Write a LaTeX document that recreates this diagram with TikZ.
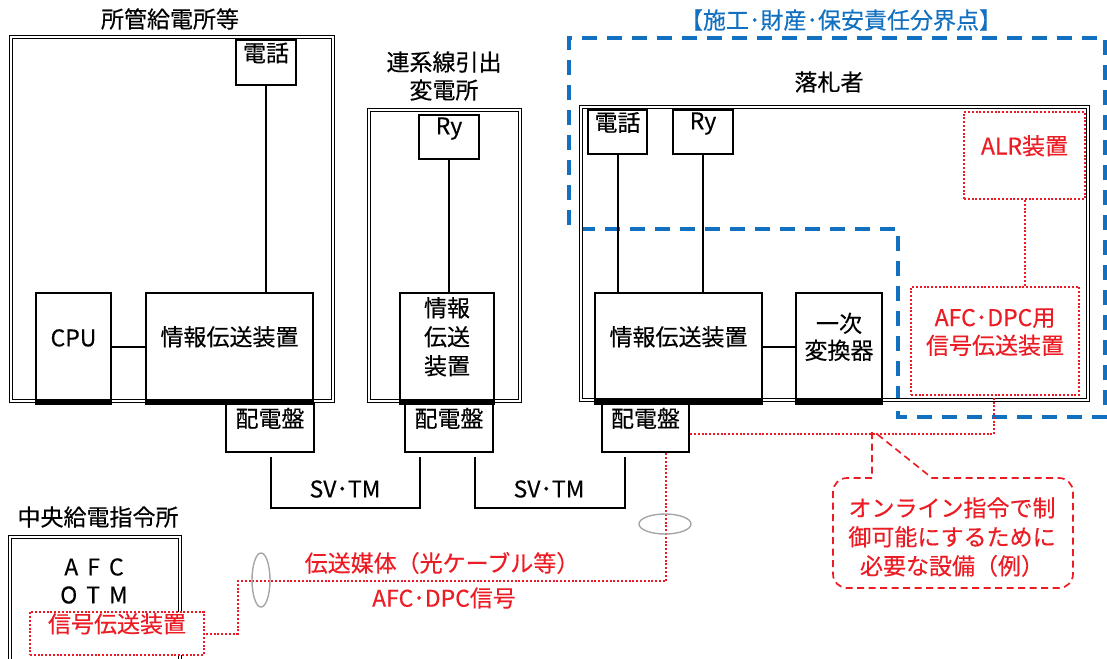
\documentclass[tikz,border=0pt]{standalone}
\usepackage{fontspec}
\setmainfont{Noto Sans CJK JP}[FakeBold=0.35]
\usetikzlibrary{fit,calc}
\definecolor{rd}{RGB}{235,28,36}
\definecolor{bl}{RGB}{18,112,192}
\newcommand\myfs{\fontsize{23}{28}\selectfont}
\begin{document}
\begin{tikzpicture}[x=1pt,y=-1pt,
  box/.style={draw, line width=2.2pt, inner sep=0pt, align=center, font=\myfs},
  stn/.style={draw, double, double distance=2pt, line width=1.2pt, inner sep=0pt},
  rbox/.style={draw=rd, text=rd, line width=2pt, dash pattern=on 2pt off 1.8pt, inner sep=0pt, align=center, font=\myfs},
  conn/.style={line width=2pt},
  rline/.style={draw=rd, line width=2pt, dash pattern=on 2pt off 1.8pt},
  bline/.style={draw=bl, line width=3.8pt, dash pattern=on 15pt off 10pt},
  callout/.style={draw=rd, line width=1.7pt, dash pattern=on 7pt off 4.5pt},
  ell/.style={draw=gray!70, line width=1.4pt},
  lbl/.style={font=\myfs, align=center, inner sep=0pt},
  rlbl/.style={font=\myfs, align=center, inner sep=0pt, text=rd},
  bar/.style={line width=4.5pt}]
\useasboundingbox (0,0) rectangle (1107,658);
\clip (0,0) rectangle (1107,658);

% blue boundary
\draw[bline] (569,225) -- (569,38) -- (1105,38) -- (1105,417) -- (898,417) -- (898,229) -- (579,229);
\node[lbl, text=bl] (btitle) at (841,20) {【施工･財産･保安責任分界点】};

% left station
\node[lbl] (t1) at (170,19) {所管給電所等};
\node[stn, fit={(11,37) (333,401)}] (s1) {};
\node[box, fit={(236,40) (296,85)}] (tel1) {電話};
\node[box, fit={(36,293) (111,400)}] (cpu) {CPU};
\node[box, fit={(146,293) (313,400)}] (inf1) {情報伝送装置};
\node[box, fit={(226,404) (314,452)}] (hd1) {配電盤};
\draw[conn] (tel1.south) -- (tel1.south |- inf1.north);
\draw[conn] (cpu) -- (inf1);
\draw[bar] ([yshift=-1.5pt]inf1.south west) -- ([yshift=-1.5pt]inf1.south east);
\draw[bar] ([yshift=-1.5pt]cpu.south west) -- ([yshift=-1.5pt]cpu.south east);

% middle station
\node[lbl] (t2) at (444,76) {連系線引出\\変電所};
\node[stn, fit={(369,110) (520,401)}] (s2) {};
\node[box, fit={(419,115) (479,159)}] (ry2) {Ry};
\node[box, fit={(400,293) (494,400)}, font=\fontsize{23}{29}\selectfont] (inf2) {情報\\伝送\\装置};
\node[box, fit={(405,404) (493,452)}] (hd2) {配電盤};
\draw[conn] (ry2.south) -- (ry2.south |- inf2.north);
\draw[bar] ([yshift=-1.5pt]inf2.south west) -- ([yshift=-1.5pt]inf2.south east);

% right station
\node[lbl] (t3) at (829,82) {落札者};
\node[stn, fit={(581,107) (1088,400)}] (s3) {};
\node[box, fit={(588,110) (647,154)}] (tel3) {電話};
\node[box, fit={(673,110) (733,154)}] (ry3) {Ry};
\node[box, fit={(595,293) (762,400)}] (inf3) {情報伝送装置};
\node[box, fit={(796,293) (882,400)}, font=\fontsize{23}{27}\selectfont] (conv) {一次\\変換器};
\node[box, fit={(602,404) (689,452)}] (hd3) {配電盤};
\draw[conn] (tel3.south) -- (tel3.south |- inf3.north);
\draw[conn] (ry3.south) -- (ry3.south |- inf3.north);
\draw[conn] (inf3) -- (conv);
\draw[bar] ([yshift=-1.5pt]inf3.south west) -- ([yshift=-1.5pt]inf3.south east);
\draw[bar] ([yshift=-1.5pt]conv.south west) -- ([yshift=-1.5pt]conv.south east);

\node[rbox, fit={(964,112) (1085,199)}] (alr) {ALR装置};
\node[rbox, fit={(911,287) (1079,395)}] (afc) {AFC･DPC用\\信号伝送装置};
\draw[rline] (alr.south) -- (alr.south |- afc.north);

% SV TM links
\coordinate (a1) at (271,457); \coordinate (a2) at (271,508);
\coordinate (a3) at (420,508); \coordinate (a4) at (420,457);
\draw[conn] (a1) -- (a2) -- (a3) -- (a4);
\node[lbl] (sv1) at (345,489) {SV･TM};
\coordinate (b1) at (475,457); \coordinate (b2) at (475,508);
\coordinate (b3) at (625,508); \coordinate (b4) at (625,457);
\draw[conn] (b1) -- (b2) -- (b3) -- (b4);
\node[lbl] (sv2) at (549,489) {SV･TM};

% red link to AFC device
\coordinate (c1) at (994,434);
\draw[rline] (hd3.east |- c1) -- (c1) -- (afc.south -| c1);

% callout
\draw[callout] (872,432) -- (872,478) [rounded corners=14pt] -- (833,478) -- (833,588) -- (1073,588) -- (1073,478) [sharp corners] -- (932,478) -- (877,434);
\node[rlbl, font=\fontsize{23}{29}\selectfont] (note) at (952,537) {オンライン指令で制\\御可能にするために\\必要な設備（例）};

% central dispatch
\node[lbl] (t4) at (98,517) {中央給電指令所};
\node[stn, fit={(10,537) (180,675)}] (s4) {};
\node[lbl] (afcotm) at (94,581) {A\hspace{9pt}F\hspace{9pt}C\\O\hspace{9pt}T\hspace{9pt}M};
\node[rbox, fill=white, fit={(30,612) (204,655)}] (sig) {信号伝送装置};

% transmission path
\coordinate (d1) at (666,581); \coordinate (d2) at (238,581);
\draw[rline] (hd3.south -| d1) -- (d1) -- (d2) -- (d2 |- sig.east) -- (sig.east);
\draw[ell] (665,524) ellipse [x radius=26pt, y radius=10pt];
\draw[ell] (261,580) ellipse [x radius=9pt, y radius=27pt];
\node[rlbl] (med) at (442,563) {伝送媒体（光ケーブル等）};
\node[rlbl] (sigl) at (444,598) {AFC･DPC信号};
\end{tikzpicture}
\end{document}
